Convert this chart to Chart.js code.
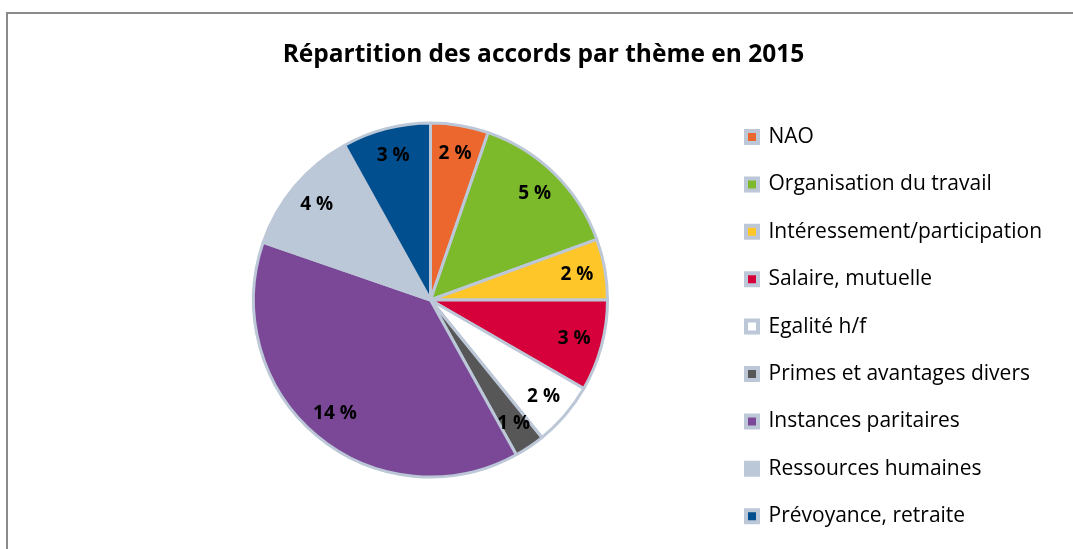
<!DOCTYPE html>
<html>
<head>
<meta charset="utf-8">
<script src="https://cdn.jsdelivr.net/npm/chart.js@4"></script>
<style>
  html, body { margin: 0; padding: 0; background: #fff; overflow: hidden; }
  #frame {
    position: absolute; left: 6px; top: 12px; width: 2000px; height: 2000px;
    border-top: 2px solid #8a8a8a; border-left: 2px solid #8a8a8a;
  }
  #title {
    position: absolute; left: 0; width: 1087px; top: 38px; line-height: 30px;
    text-align: center; font-weight: bold; color: #000; white-space: nowrap;
  }
  #wrap { position: absolute; left: 0; top: 0; width: 1073px; height: 600px; }
</style>
</head>
<body>
<div id="frame"></div>
<div id="wrap"><canvas id="pieChart"></canvas></div>
<div id="title"></div>
<script>
  // Data
  const categories = [
    "NAO",
    "Organisation du travail",
    "Intéressement/participation",
    "Salaire, mutuelle",
    "Egalité h/f",
    "Primes et avantages divers",
    "Instances paritaires",
    "Ressources humaines",
    "Prévoyance, retraite"
  ];
  const values = [1.9, 5.1, 2.0, 3.0, 2.1, 1.0, 13.8, 4.2, 2.9];
  const valueLabels = ["2 %", "5 %", "2 %", "3 %", "2 %", "1 %", "14 %", "4 %", "3 %"];
  const sliceColors = ["#ec672d", "#7dba2b", "#ffc62a", "#d6003a", "#ffffff",
                       "#575757", "#7a4897", "#bbc8d8", "#014f8e"];
  const titleText = "Répartition des accords par thème en 2015";

  const borderCol = "#bcc7d7";
  const fontFamily = "'Open Sans', Lato, sans-serif";

  // size fonts so the text widths come out like the picture
  const measureCtx = document.createElement("canvas").getContext("2d");
  function textWidth(str, font) {
    measureCtx.font = font;
    return measureCtx.measureText(str).width;
  }
  const titleSize = Math.round(20 * 521 / textWidth(titleText, "bold 20px " + fontFamily) * 2) / 2;
  const longest = categories.reduce((a, b) => textWidth(b, "20px " + fontFamily) > textWidth(a, "20px " + fontFamily) ? b : a);
  const legendSize = Math.round(20 * 271 / textWidth(longest, "20px " + fontFamily) * 2) / 2;
  const legendTextW = textWidth(longest, legendSize + "px " + fontFamily);

  const titleDiv = document.getElementById("title");
  titleDiv.textContent = titleText;
  titleDiv.style.fontFamily = fontFamily;
  titleDiv.style.fontSize = titleSize + "px";

  // legend rows 47.4px apart, first row centred at y 137, boxes from x 746
  const rowStep = 47.4;
  const legendPad = rowStep - legendSize;
  const boxW = 12;
  const legendLeft = 746 - legendPad;
  const legendW = legendPad + boxW + legendSize / 2 + legendTextW + 10;
  const padLeft = 2 * 430.5 - legendLeft;   // pie centre x 430.5
  const padRight = 1073 - legendLeft - legendW;

  // Draw the value labels inside each slice
  const sliceLabels = {
    id: "sliceLabels",
    afterDatasetsDraw(chart) {
      const ctx = chart.ctx;
      const meta = chart.getDatasetMeta(0);
      ctx.save();
      ctx.font = "bold 19px " + fontFamily;
      ctx.fillStyle = "#000";
      ctx.textAlign = "center";
      ctx.textBaseline = "middle";
      meta.data.forEach((arc, i) => {
        const p = arc.getProps(["x", "y", "startAngle", "endAngle", "outerRadius"], true);
        const mid = (p.startAngle + p.endAngle) / 2;
        const r = p.outerRadius * 0.84;
        ctx.fillText(valueLabels[i], p.x + Math.cos(mid) * r, p.y + Math.sin(mid) * r);
      });
      ctx.restore();
    }
  };

  const ctx = document.getElementById("pieChart").getContext("2d");
  new Chart(ctx, {
    type: "pie",
    data: {
      labels: categories,
      datasets: [{
        data: values,
        backgroundColor: sliceColors,
        borderColor: borderCol,
        borderWidth: 3,
        radius: 177,
        clip: false
      }]
    },
    options: {
      responsive: true,
      maintainAspectRatio: false,
      animation: false,
      events: [],
      // canvas is 600 high, so the chart area (0..600) is centred at y 300
      layout: { padding: { left: padLeft, right: padRight, top: 0, bottom: 0 } },
      plugins: {
        title: { display: false },
        legend: {
          position: "right",
          align: "start",
          title: {
            display: true,
            text: " ",
            font: { size: 10, lineHeight: 1.2 },
            padding: { top: 137 - legendPad - legendSize / 2 - 12, bottom: 0 }
          },
          labels: {
            color: "#000",
            font: { family: fontFamily, size: legendSize },
            boxWidth: boxW,
            boxHeight: boxW,
            padding: legendPad,
            generateLabels(chart) {
              const items = Chart.overrides.pie.plugins.legend.labels.generateLabels(chart);
              return items.map(it => Object.assign(it, { lineWidth: 4, strokeStyle: borderCol }));
            }
          }
        },
        tooltip: { enabled: false }
      }
    },
    plugins: [sliceLabels]
  });
</script>
</body>
</html>
